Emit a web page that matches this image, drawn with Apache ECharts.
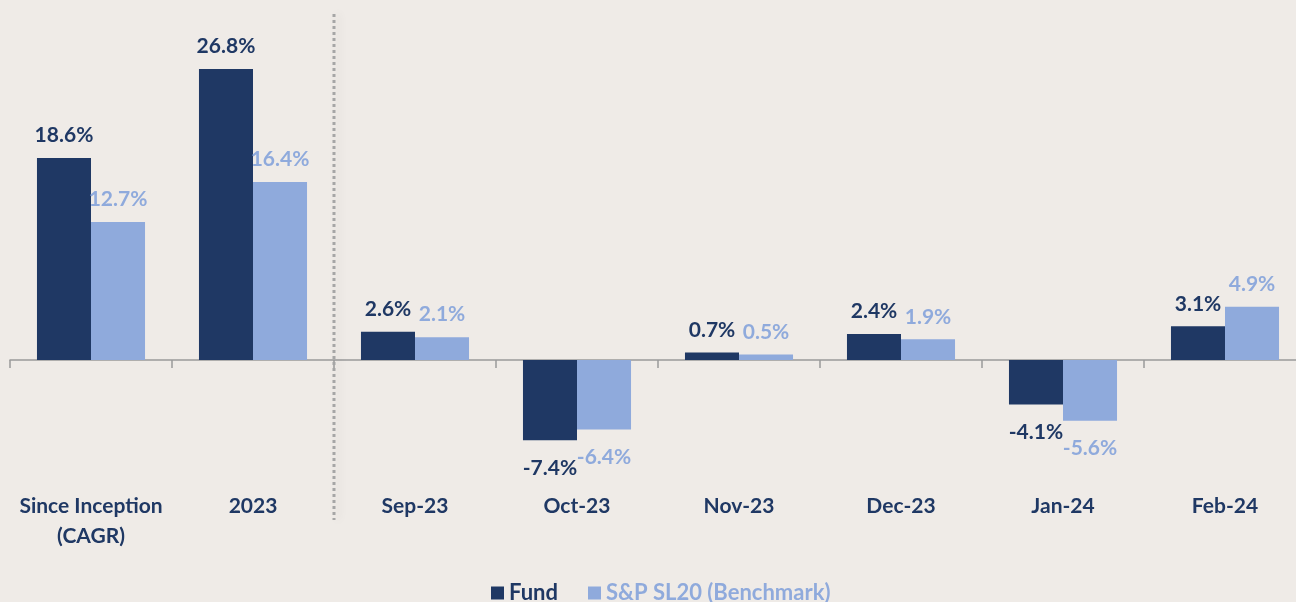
<!DOCTYPE html>
<html>
<head>
<meta charset="utf-8">
<script src="https://cdn.jsdelivr.net/npm/echarts@6/dist/echarts.min.js"></script>
<style>
  html, body { margin: 0; padding: 0; background: #efebe7; }
  #main { width: 1296px; height: 602px; }
</style>
</head>
<body>
<div id="main"></div>
<script>
// 数据
var categories = ['Since Inception\n(CAGR)', '2023', 'Sep-23', 'Oct-23', 'Nov-23', 'Dec-23', 'Jan-24', 'Feb-24'];
var fundValues = [18.6, 26.8, 2.6, -7.4, 0.7, 2.4, -4.1, 3.1];
var benchValues = [12.7, 16.4, 2.1, -6.4, 0.5, 1.9, -5.6, 4.9];

var navy = '#1f3864';
var light = '#8faadc';
var font = 'Lato';

// 正数标签在上，负数标签在下
function toItems(arr) {
    return arr.map(function (v) {
        return {
            value: v,
            label: { position: v < 0 ? 'bottom' : 'top', distance: v < 0 ? 17 : 12 }
        };
    });
}

var myChart = echarts.init(document.getElementById('main'));

myChart.setOption({
    backgroundColor: '#efebe7',
    animation: false,
    grid: { left: 10, width: 1296, top: 34.2, bottom: 133.4, outerBoundsMode: 'none' },
    legend: {
        bottom: -7,
        left: 486,
        icon: 'rect',
        itemWidth: 13,
        itemHeight: 13,
        itemGap: 30,
        textStyle: { fontFamily: font, fontWeight: 'bold', fontSize: 22 },
        data: [
            { name: 'Fund', textStyle: { color: navy } },
            { name: 'S&P SL20 (Benchmark)', textStyle: { color: light } }
        ]
    },
    xAxis: [{
        type: 'category',
        data: categories,
        axisLine: { onZero: true, lineStyle: { color: '#9a9a9a', width: 1.5 } },
        axisTick: { show: true, length: 8, lineStyle: { color: '#9a9a9a', width: 1.5 } },
        axisLabel: { show: false }
    }, {
        type: 'category',
        data: categories,
        position: 'bottom',
        axisLine: { show: false, onZero: false },
        axisTick: { show: false },
        axisLabel: {
            interval: 0,
            margin: 23,
            color: navy,
            fontFamily: font,
            fontWeight: 'bold',
            fontSize: 21,
            lineHeight: 30
        }
    }],
    yAxis: {
        type: 'value',
        min: -10,
        max: 30,
        show: false,
        splitLine: { show: false }
    },
    series: [{
        name: 'Fund',
        type: 'bar',
        data: toItems(fundValues),
        barGap: 0,
        barCategoryGap: '33.3%',
        itemStyle: { color: navy },
        label: {
            show: true,
            color: navy,
            fontFamily: font,
            fontWeight: 'bold',
            fontSize: 21,
            formatter: function (p) { return p.value.toFixed(1) + '%'; }
        }
    }, {
        name: 'S&P SL20 (Benchmark)',
        type: 'bar',
        data: toItems(benchValues),
        barGap: 0,
        barCategoryGap: '33.3%',
        itemStyle: { color: light },
        label: {
            show: true,
            color: light,
            fontFamily: font,
            fontWeight: 'bold',
            fontSize: 21,
            formatter: function (p) { return p.value.toFixed(1) + '%'; }
        }
    }]
});

// 分隔虚线，位于 2023 和 Sep-23 之间
var x1 = myChart.convertToPixel({ xAxisIndex: 0 }, 1);
var x2 = myChart.convertToPixel({ xAxisIndex: 0 }, 2);
var sepX = Math.round((x1 + x2) / 2);
myChart.setOption({
    graphic: [{
        type: 'line',
        shape: { x1: sepX, y1: 14, x2: sepX, y2: 520 },
        style: {
            stroke: '#a6a6a6',
            lineWidth: 3,
            lineDash: [3, 3],
            shadowBlur: 8,
            shadowOffsetX: 4,
            shadowColor: 'rgba(0,0,0,0.12)'
        },
        z: 10
    }]
});
</script>
</body>
</html>
